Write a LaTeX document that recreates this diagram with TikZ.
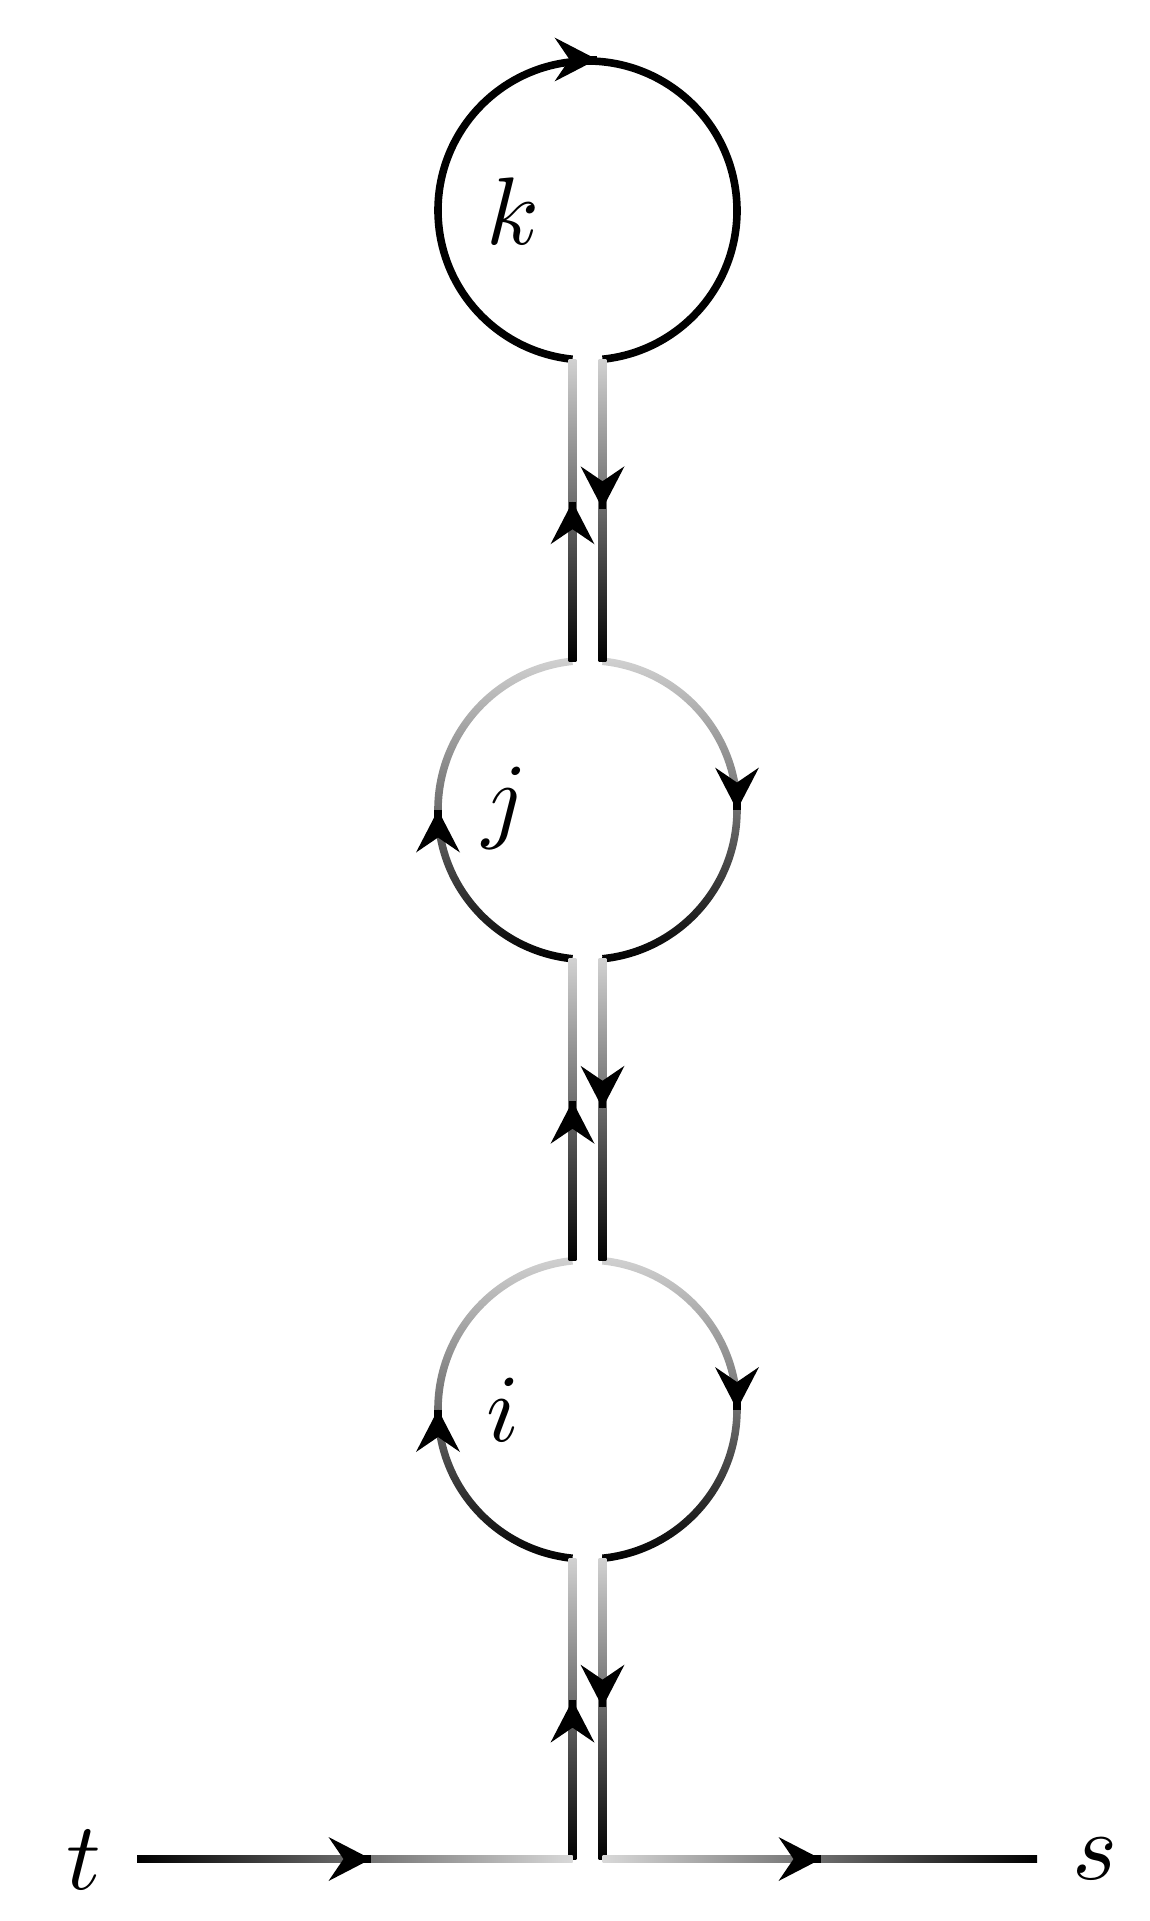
\documentclass[tikz,border=0pt]{standalone}
\usetikzlibrary{calc}
\tikzset{
  fadev/.style={top color=black!18, bottom color=black},
  loopshade/.style={top color=black!18, bottom color=black, middle color=black!57},
  fadeleft/.style={left color=black, right color=black!15},
  faderight/.style={left color=black!15, right color=black},
  lbl/.style={scale=9.6, anchor=base, inner sep=0pt},
  ahd/.pic={
    \fill[black] (0,0) -- (-42.5,22) -- (-27.5,0) -- (-42.5,-22) -- cycle;
    \fill[black] (-16,-3.8) rectangle (0,3.8);
  }
}
\newcommand\myvbar[2]{\shade[fadev] ($(#1)+(-3.8,0)$) rectangle ($(#2)+(3.8,0)$);}
\newcommand\myloop[1]{%
  \shade[loopshade] ($(#1)+(95.76:153.3)$) arc[start angle=95.76, end angle=264.24, radius=153.3]
     -- ++(84.24:7.6) arc[start angle=264.24, end angle=95.76, radius=145.7] -- cycle;
  \shade[loopshade] ($(#1)+(84.24:153.3)$) arc[start angle=84.24, end angle=-84.24, radius=153.3]
     -- ++(95.76:7.6) arc[start angle=-84.24, end angle=84.24, radius=145.7] -- cycle;
}
\begin{document}
\begin{tikzpicture}[x=1pt,y=1pt,line width=7.6pt]
\useasboundingbox (0,0) rectangle (1150,-1921);
% loop centres
\coordinate (ck) at (587.5,-210.5);
\coordinate (cj) at (587.5,-810);
\coordinate (ci) at (587.5,-1409.5);
% gap end points
\coordinate (kL) at ($(ck)+(-15,-148.75)$);
\coordinate (kR) at ($(ck)+(15,-148.75)$);
\coordinate (jTL) at ($(cj)+(-15,148.75)$);
\coordinate (jTR) at ($(cj)+(15,148.75)$);
\coordinate (jBL) at ($(cj)+(-15,-148.75)$);
\coordinate (jBR) at ($(cj)+(15,-148.75)$);
\coordinate (iTL) at ($(ci)+(-15,148.75)$);
\coordinate (iTR) at ($(ci)+(15,148.75)$);
\coordinate (iBL) at ($(ci)+(-15,-148.75)$);
\coordinate (iBR) at ($(ci)+(15,-148.75)$);
\coordinate (bL) at (572.5,-1859);
\coordinate (bR) at (602.5,-1859);
\coordinate (tE) at (137,-1859);
\coordinate (sE) at (1037,-1859);

% loop k
\draw[line width=7.6pt] ($(ck)+(-84.24:149.5)$) arc[start angle=-84.24, end angle=264.24, radius=149.5];
% loops j, i
\myloop{cj}
\myloop{ci}
% vertical double lines
\myvbar{kL}{jTL}
\myvbar{kR}{jTR}
\myvbar{jBL}{iTL}
\myvbar{jBR}{iTR}
\myvbar{iBL}{bL}
\myvbar{iBR}{bR}
% horizontal line
\shade[fadeleft] ($(tE)+(0,3.8)$) rectangle ($(bL)+(0,-3.8)$);
\shade[faderight] ($(bR)+(0,3.8)$) rectangle ($(sE)+(0,-3.8)$);

% arrow heads
\pic at (597,-59.5) {ahd};
\pic[rotate=90] at ($(cj)+(-149.5,0)$) {ahd};
\pic[rotate=-90] at ($(cj)+(149.5,0)$) {ahd};
\pic[rotate=90] at ($(ci)+(-149.5,0)$) {ahd};
\pic[rotate=-90] at ($(ci)+(149.5,0)$) {ahd};
\pic[rotate=90] at ($(kL)!0.5!(jTL)+(0,8.5)$) {ahd};
\pic[rotate=-90] at ($(kR)!0.5!(jTR)+(0,1.5)$) {ahd};
\pic[rotate=90] at ($(jBL)!0.5!(iTL)+(0,8.5)$) {ahd};
\pic[rotate=-90] at ($(jBR)!0.5!(iTR)+(0,1.5)$) {ahd};
\pic[rotate=90] at ($(iBL)!0.5!(bL)+(0,8.5)$) {ahd};
\pic[rotate=-90] at ($(iBR)!0.5!(bR)+(0,1.5)$) {ahd};
\pic at (371,-1859) {ahd};
\pic at (821,-1859) {ahd};

% labels
\node[lbl] (lk) at (513,-244) {$k$};
\node[lbl] (lj) at (505.5,-830.5) {$j$};
\node[lbl] (li) at (503,-1441) {$i$};
\node[lbl] (lt) at (84,-1889) {$t$};
\node[lbl] (ls) at (1095,-1879) {$s$};
\end{tikzpicture}
\end{document}
